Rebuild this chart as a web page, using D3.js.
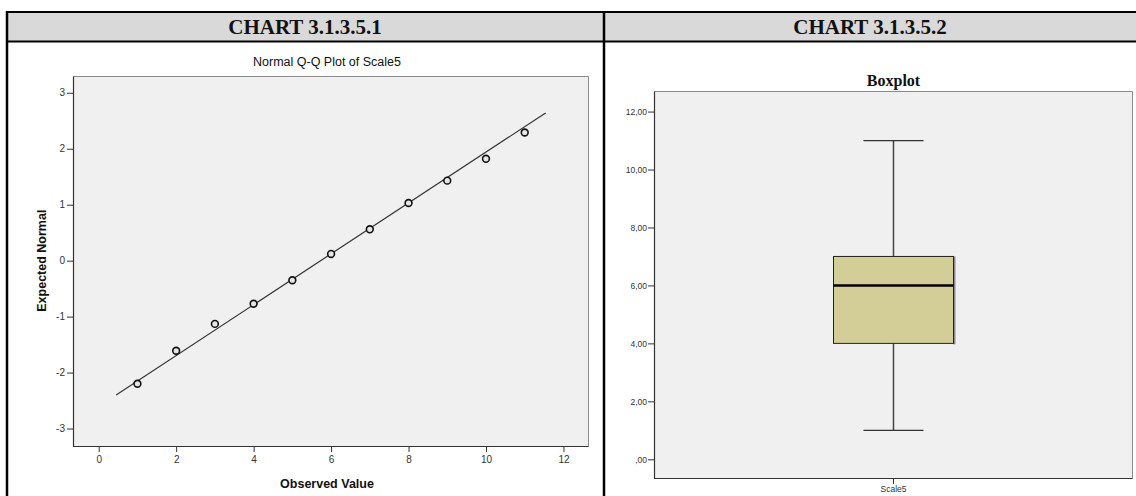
<!DOCTYPE html>
<html>
<head>
<meta charset="utf-8">
<script src="https://cdn.jsdelivr.net/npm/d3@7"></script>
<style>
  html, body { margin: 0; padding: 0; background: #fff; }
  svg { display: block; }
</style>
</head>
<body>
<svg id="chart" width="1136" height="496"></svg>
<script>
// ---- Q-Q plot data (Scale5) ----
const observed = [1, 2, 3, 4, 5, 6, 7, 8, 9, 10, 11];
const expectedNormal = [-2.20, -1.61, -1.13, -0.77, -0.35, 0.12, 0.56, 1.03, 1.43, 1.82, 2.29];
const refLineX = [0.45, 11.54];
const refLineY = [-2.40, 2.64];
const qqXTicks = [0, 2, 4, 6, 8, 10, 12];
const qqYTicks = [-3, -2, -1, 0, 1, 2, 3];

// ---- Boxplot data (Scale5) ----
const boxCategories = ["Scale5"];
const boxMin = [1];
const boxQ1 = [4];
const boxMedian = [6];
const boxQ3 = [7];
const boxMax = [11];
const boxYTicks = [0, 2, 4, 6, 8, 10, 12];
const boxYLabels = [",00", "2,00", "4,00", "6,00", "8,00", "10,00", "12,00"];

const headers = ["CHART 3.1.3.5.1", "CHART 3.1.3.5.2"];

const svg = d3.select("#chart");
const sans = "'Liberation Sans', Arial, sans-serif";
const serif = "'Liberation Serif', 'Times New Roman', serif";

// ---- surrounding table ----
const tbl = { left: 6, mid: 604, right: 1140, top: 12, headBottom: 41 };
svg.append("rect")
  .attr("x", tbl.left).attr("y", tbl.top)
  .attr("width", tbl.right - tbl.left).attr("height", tbl.headBottom - tbl.top)
  .attr("fill", "#d9d9d9");
svg.append("line").attr("x1", tbl.left).attr("x2", tbl.right)
  .attr("y1", tbl.top).attr("y2", tbl.top)
  .attr("stroke", "#000").attr("stroke-width", 2);
svg.append("line").attr("x1", tbl.left).attr("x2", tbl.right)
  .attr("y1", tbl.headBottom + 0.5).attr("y2", tbl.headBottom + 0.5)
  .attr("stroke", "#000").attr("stroke-width", 2);
[tbl.left + 1, tbl.mid].forEach(x => {
  svg.append("line").attr("x1", x).attr("x2", x)
    .attr("y1", tbl.top - 1).attr("y2", 496)
    .attr("stroke", "#000").attr("stroke-width", 2.5);
});
svg.selectAll("text.header").data(headers).join("text")
  .attr("class", "header")
  .attr("x", (d, i) => i === 0 ? (tbl.left + tbl.mid) / 2 : (tbl.mid + 1136) / 2)
  .attr("y", 34)
  .attr("text-anchor", "middle")
  .attr("font-family", serif).attr("font-weight", "bold").attr("font-size", 21)
  .attr("fill", "#111")
  .text(d => d);

// ---- plot frame helper: light background, dark left/bottom, gray top/right ----
function frame(g, x0, y0, x1, y1) {
  g.append("rect").attr("x", x0).attr("y", y0)
    .attr("width", x1 - x0).attr("height", y1 - y0)
    .attr("fill", "#f0f0f0");
  g.append("path")
    .attr("d", `M${x0 + 0.5},${y0 + 0.5}H${x1 - 0.5}V${y1 - 0.5}`)
    .attr("fill", "none").attr("stroke", "#8a8a8a").attr("stroke-width", 1);
  g.append("path")
    .attr("d", `M${x0 + 0.5},${y0 + 0.5}V${y1 - 0.5}H${x1 - 0.5}`)
    .attr("fill", "none").attr("stroke", "#333").attr("stroke-width", 1.2);
}

function styleAxis(sel, size) {
  sel.select(".domain").remove();
  sel.selectAll(".tick line").attr("stroke", "#333").attr("stroke-width", 1);
  sel.selectAll(".tick text")
    .attr("font-family", sans).attr("font-size", size).attr("fill", "#333");
}

// ================= Normal Q-Q plot =================
const qq = { x0: 73, x1: 589, y0: 76, y1: 447 };
const gq = svg.append("g");
frame(gq, qq.x0, qq.y0, qq.x1, qq.y1);

const xq = d3.scaleLinear().domain([-0.664, 12.66]).range([qq.x0, qq.x1]);
const yq = d3.scaleLinear().domain([-3.33, 3.30]).range([qq.y1, qq.y0]);

gq.append("g").attr("transform", `translate(${qq.x0},0)`)
  .call(d3.axisLeft(yq).tickValues(qqYTicks).tickSize(6).tickPadding(2)
    .tickFormat(d => String(d)))
  .call(s => styleAxis(s, 10));
gq.append("g").attr("transform", `translate(0,${qq.y1})`)
  .call(d3.axisBottom(xq).tickValues(qqXTicks).tickSize(5).tickPadding(4)
    .tickFormat(d => String(d)))
  .call(s => styleAxis(s, 10));

gq.append("text")
  .attr("x", (qq.x0 + qq.x1) / 2 - 4).attr("y", 66)
  .attr("text-anchor", "middle")
  .attr("font-family", sans).attr("font-size", 12.5).attr("fill", "#111")
  .text("Normal Q-Q Plot of Scale5");
gq.append("text")
  .attr("x", (qq.x0 + qq.x1) / 2 - 4).attr("y", 488)
  .attr("text-anchor", "middle")
  .attr("font-family", sans).attr("font-weight", "bold").attr("font-size", 12.5).attr("fill", "#111")
  .text("Observed Value");
gq.append("text")
  .attr("transform", `translate(46,${yq(0)}) rotate(-90)`)
  .attr("text-anchor", "middle")
  .attr("font-family", sans).attr("font-weight", "bold").attr("font-size", 12.5).attr("fill", "#111")
  .text("Expected Normal");

// reference line
gq.append("line")
  .attr("x1", xq(refLineX[0])).attr("y1", yq(refLineY[0]))
  .attr("x2", xq(refLineX[1])).attr("y2", yq(refLineY[1]))
  .attr("stroke", "#333").attr("stroke-width", 1.2);

// observed points
gq.selectAll("circle.pt").data(observed).join("circle")
  .attr("class", "pt")
  .attr("cx", d => xq(d))
  .attr("cy", (d, i) => yq(expectedNormal[i]))
  .attr("r", 3.4)
  .attr("fill", "#e6e6e6")
  .attr("stroke", "#111").attr("stroke-width", 1.6);

// ================= Boxplot =================
const bp = { x0: 654, x1: 1133, y0: 91, y1: 479 };
const gb = svg.append("g");
frame(gb, bp.x0, bp.y0, bp.x1, bp.y1);

const xb = d3.scaleBand().domain(boxCategories).range([bp.x0, bp.x1]);
const yb = d3.scaleLinear().domain([-0.68, 12.71]).range([bp.y1, bp.y0]);

gb.append("g").attr("transform", `translate(${bp.x0},0)`)
  .call(d3.axisLeft(yb).tickValues(boxYTicks).tickSize(6).tickPadding(1)
    .tickFormat((d, i) => boxYLabels[i]))
  .call(s => styleAxis(s, 8.5));
gb.append("g").attr("transform", `translate(0,${bp.y1})`)
  .call(d3.axisBottom(xb).tickSize(5).tickPadding(2))
  .call(s => styleAxis(s, 8.5));

gb.append("text")
  .attr("x", (bp.x0 + bp.x1) / 2).attr("y", 86)
  .attr("text-anchor", "middle")
  .attr("font-family", serif).attr("font-weight", "bold").attr("font-size", 16).attr("fill", "#111")
  .text("Boxplot");

const boxW = 120, capW = 60;
boxCategories.forEach((c, i) => {
  const cx = xb(c) + xb.bandwidth() / 2;
  // whiskers
  gb.append("line").attr("x1", cx).attr("x2", cx)
    .attr("y1", yb(boxMax[i])).attr("y2", yb(boxQ3[i]))
    .attr("stroke", "#444").attr("stroke-width", 1.5);
  gb.append("line").attr("x1", cx).attr("x2", cx)
    .attr("y1", yb(boxQ1[i])).attr("y2", yb(boxMin[i]))
    .attr("stroke", "#444").attr("stroke-width", 1.5);
  [boxMax[i], boxMin[i]].forEach(v => {
    gb.append("line").attr("x1", cx - capW / 2).attr("x2", cx + capW / 2)
      .attr("y1", yb(v)).attr("y2", yb(v))
      .attr("stroke", "#333").attr("stroke-width", 1.3);
  });
  // box with a soft right-hand shadow
  gb.append("line").attr("x1", cx + boxW / 2 + 1).attr("x2", cx + boxW / 2 + 1)
    .attr("y1", yb(boxQ3[i])).attr("y2", yb(boxQ1[i]) + 1)
    .attr("stroke", "#8c8c8c").attr("stroke-width", 2);
  gb.append("rect")
    .attr("x", cx - boxW / 2).attr("y", yb(boxQ3[i]))
    .attr("width", boxW).attr("height", yb(boxQ1[i]) - yb(boxQ3[i]))
    .attr("fill", "#d3ce97").attr("stroke", "#222").attr("stroke-width", 1);
  gb.append("line").attr("x1", cx - boxW / 2).attr("x2", cx + boxW / 2)
    .attr("y1", yb(boxMedian[i])).attr("y2", yb(boxMedian[i]))
    .attr("stroke", "#000").attr("stroke-width", 2.6);
});
</script>
</body>
</html>
